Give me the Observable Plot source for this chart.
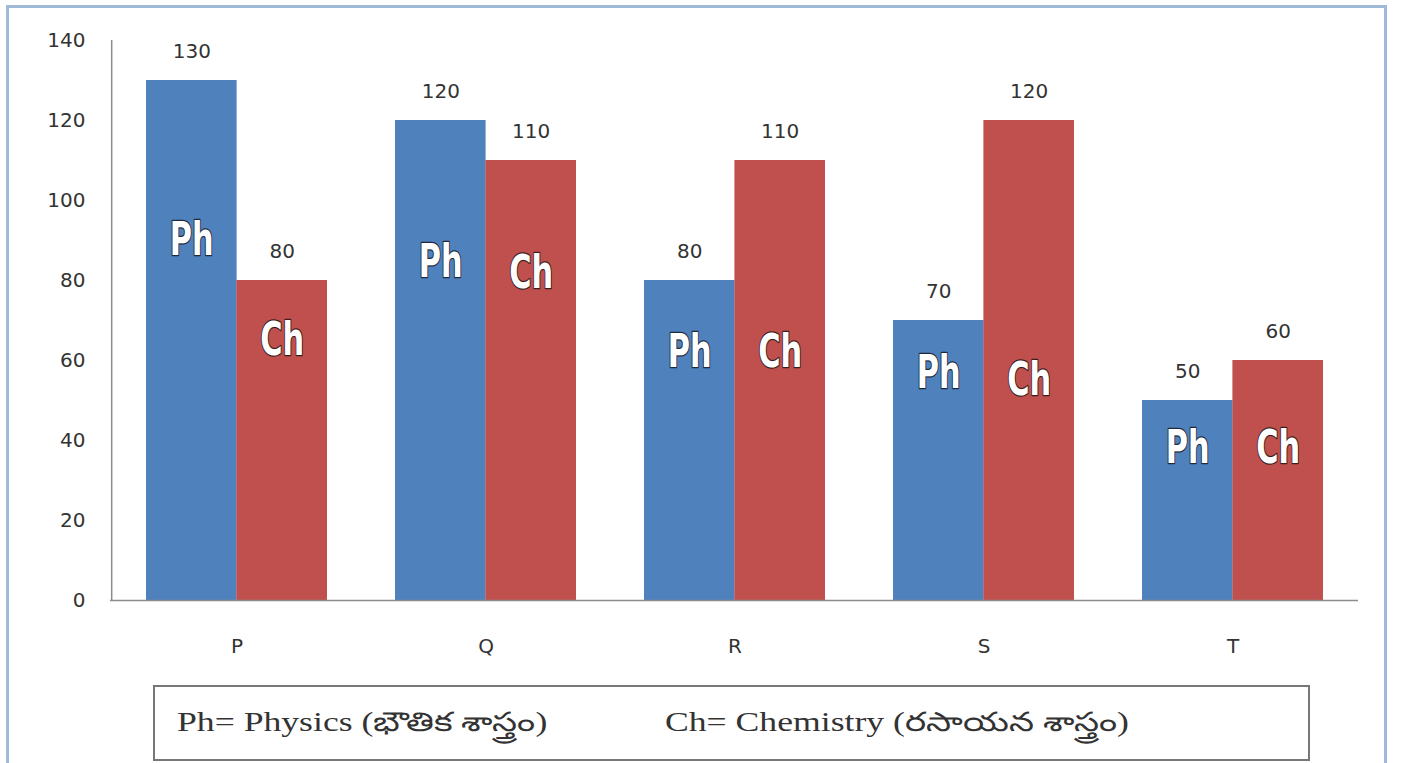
<!DOCTYPE html>
<html>
<head>
<meta charset="utf-8">
<script src="https://cdn.jsdelivr.net/npm/d3@7"></script>
<script src="https://cdn.jsdelivr.net/npm/@observablehq/plot@0.6"></script>
<style>
  html, body { margin: 0; padding: 0; background: #fff; }
  #wrap { position: relative; width: 1403px; height: 763px; overflow: hidden; background: #fff; }
  #frame { position: absolute; left: 6px; top: 5px; width: 1381px; height: 800px; border: 3px solid #9fb9d6; box-sizing: border-box; }
  #chart { position: absolute; left: 0; top: 0; }
  #legend { position: absolute; left: 153px; top: 685px; width: 1157px; height: 76px; border: 2px solid #777; box-sizing: border-box;
            font-family: "Liberation Serif", "Noto Sans", serif; font-size: 27px; color: #333; }
  #legend span { position: absolute; top: 20px; white-space: nowrap; transform: scaleX(1.32); transform-origin: 0 50%; }
  g.squeeze { transform-box: fill-box; transform-origin: center; transform: scaleX(0.66); }
</style>
</head>
<body>
<div id="wrap">
  <div id="frame"></div>
  <div id="chart"></div>
  <div id="legend">
    <span style="left: 22px;">Ph= Physics (భౌతిక శాస్త్రం)</span>
    <span style="left: 510px;">Ch= Chemistry (రసాయన శాస్త్రం)</span>
  </div>
</div>
<script>
const categories = ["P", "Q", "R", "S", "T"];
const physics = [130, 120, 80, 70, 50];
const chemistry = [80, 110, 110, 120, 60];
const yTicks = [0, 20, 40, 60, 80, 100, 120, 140];
// height (in value units) at which the "Ph"/"Ch" tags sit inside the bars
const phTagAt = [90, 84.5, 62, 56.75, 38];
const chTagAt = [65, 81.75, 62, 55, 38];

const rows = categories.map((c, i) => ({
  cat: c, ph: physics[i], ch: chemistry[i], phAt: phTagAt[i], chAt: chTagAt[i]
}));

const half = 90.4;      // half of the group width (px)
const off = half / 2;   // offset of each bar's centre from the group centre
const numFont = "DejaVu Sans, Verdana, sans-serif";
const tagFont = "DejaVu Sans, sans-serif";

const chart = Plot.plot({
  width: 1403,
  height: 680,
  marginLeft: 110,
  marginRight: 45,
  marginTop: 40,
  marginBottom: 80,
  style: { background: "transparent", fontFamily: numFont },
  x: { domain: categories, paddingInner: 0.275, paddingOuter: 0.14, label: null },
  y: { domain: [0, 140], label: null },
  marks: [
    Plot.barY(rows, { x: "cat", y: "ph", fill: "#4f81bd", insetLeft: 0, insetRight: half }),
    Plot.barY(rows, { x: "cat", y: "ch", fill: "#c0504d", insetLeft: half, insetRight: 0 }),
    Plot.ruleY([0], { stroke: "#8c8c8c", strokeWidth: 1.5 }),
    Plot.ruleX(["P"], { x: d => d, y1: 0, y2: 140, dx: -125.3, stroke: "#8c8c8c", strokeWidth: 1.5 }),
    Plot.axisY({ ticks: yTicks, tickSize: 0, tickPadding: 25, fontSize: 20, fill: "#333", label: null, fontFamily: numFont }),
    Plot.axisX({ tickSize: 0, tickPadding: 38, fontSize: 20, fill: "#333", label: null, fontFamily: numFont }),
    Plot.text(rows, { x: "cat", y: "ph", text: d => String(d.ph), dx: -off, dy: -29, fontSize: 20, fill: "#333", fontFamily: numFont }),
    Plot.text(rows, { x: "cat", y: "ch", text: d => String(d.ch), dx: off, dy: -29, fontSize: 20, fill: "#333", fontFamily: numFont }),
    Plot.text(rows, { x: "cat", y: "phAt", text: () => "Ph", dx: -off, fontSize: 46, fontWeight: "bold", fill: "white",
      stroke: "#1e2a3a", strokeWidth: 2.5, paintOrder: "stroke", fontFamily: tagFont }),
    Plot.text(rows, { x: "cat", y: "chAt", text: () => "Ch", dx: off, fontSize: 46, fontWeight: "bold", fill: "white",
      stroke: "#3a1e1e", strokeWidth: 2.5, paintOrder: "stroke", fontFamily: tagFont })
  ]
});
document.getElementById("chart").appendChild(chart);

// condense the in-bar "Ph"/"Ch" tags horizontally, as in the original
d3.select(chart).selectAll("text").each(function () {
  const t = this.textContent;
  if (t !== "Ph" && t !== "Ch") return;
  const g = document.createElementNS("http://www.w3.org/2000/svg", "g");
  g.setAttribute("class", "squeeze");
  this.parentNode.insertBefore(g, this);
  g.appendChild(this);
});
</script>
</body>
</html>
